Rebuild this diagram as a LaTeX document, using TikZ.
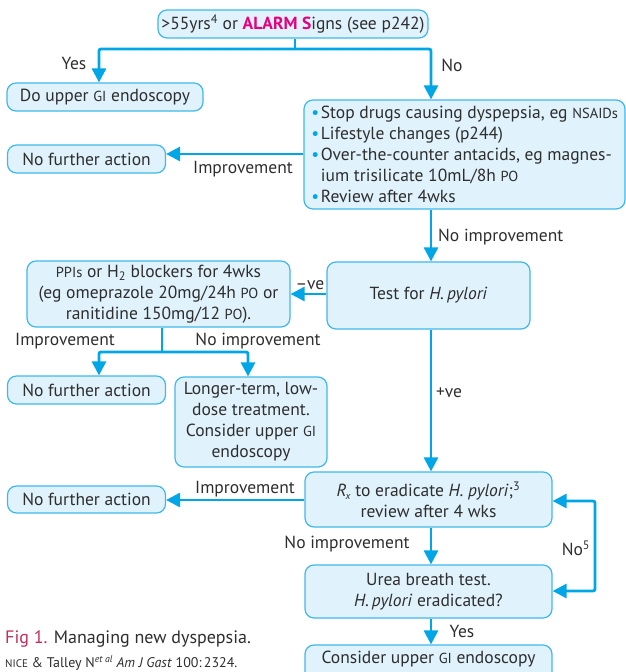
\documentclass[tikz,border=0pt]{standalone}
\usepackage{fontspec}
\setmainfont{PT Sans}
\usetikzlibrary{arrows.meta}
\definecolor{flow}{HTML}{00A6E6}
\definecolor{boxfill}{HTML}{E0F2FB}
\definecolor{boxline}{HTML}{3FB8EC}
\definecolor{txt}{HTML}{2E2E2E}
\definecolor{alarm}{HTML}{E6007E}
\definecolor{figred}{HTML}{C22D5B}
\newcommand\smc[1]{{\fontsize{14.5}{14.5}\selectfont #1}}
\newcommand\bul{\makebox[10pt][l]{\hspace{0.5pt}\textcolor{flow}{\textbullet}}}
\tikzset{
  box/.style={draw=boxline, fill=boxfill, rounded corners=9pt, line width=1.2pt, text=txt, inner sep=0pt, align=center},
  conn/.style={draw=flow, line width=2.8pt, rounded corners=2pt},
  arr/.style={conn, -{Triangle[length=14pt,width=14pt]}},
  darr/.style={conn, {Triangle[length=14pt,width=14pt]}-{Triangle[length=14pt,width=14pt]}},
  lab/.style={text=txt, inner sep=0pt},
}
\begin{document}
\begin{tikzpicture}[x=1pt, y=-1pt, font=\fontsize{17.5}{21}\selectfont]
\useasboundingbox (0,0) rectangle (626,672);
\clip (0,0) rectangle (626,672);

% column coordinates
\coordinate (cL) at (99,0);
\coordinate (cR) at (431,0);
\coordinate (cLong) at (248,0);
\coordinate (j1) at (295,49);
\coordinate (j2) at (162,352);
\coordinate (r1) at (0,154);
\coordinate (r3) at (0,500);
\coordinate (lpTop) at (595,501);
\coordinate (lpBot) at (595,591);

% boxes
\node[box, minimum width=270pt, minimum height=28pt] (top) at (293,24)
  {\textgreater55yrs\textsuperscript{4} or \textbf{\textcolor{alarm}{ALARM S}}igns (see p242)};
\node[box, minimum width=196pt, minimum height=28pt] (do) at (105,97)
  {Do upper \smc{GI} endoscopy};
\node[box, minimum width=321pt, minimum height=109pt, align=left] (bul) at (464.5,154.5)
  {\bul Stop drugs causing dyspepsia, eg \smc{NSAIDs}\\
   \bul Lifestyle changes (p244)\\
   \bul Over-the-counter antacids, eg magnes-\\
   \hspace*{10pt}ium trisilicate 10mL/8h \smc{PO}\\
   \bul Review after 4wks};
\node[box, minimum width=158pt, minimum height=28pt] (nfa1) at (86.5,159) {No further action};
\node[box, minimum width=203pt, minimum height=67pt] (test) at (428.5,295.5) {Test for \textit{H.\,pylori}};
\node[box, minimum width=263pt, minimum height=66pt] (ppi) at (158.5,294)
  {\smc{PPIs} or H\textsubscript{2} blockers for 4wks\\
   (eg omeprazole 20mg/24h \smc{PO} or\\
   ranitidine 150mg/12 \smc{PO}).};
\node[box, minimum width=158pt, minimum height=28pt] (nfa2) at (86.5,390) {No further action};
\node[box, minimum width=152pt, minimum height=90pt] (long) at (251,422)
  {Longer-term, low-\\dose treatment.\\Consider upper \smc{GI}\\endoscopy};
\node[box, minimum width=247pt, minimum height=55pt] (rx) at (428.5,499.5)
  {{\textit{R}\kern-1pt\raisebox{-3pt}{\fontsize{10}{10}\selectfont\textit{x}}} to eradicate \textit{H. pylori};\textsuperscript{3}\\review after 4 wks};
\node[box, minimum width=158pt, minimum height=27pt] (nfa3) at (86.5,499.5) {No further action};
\node[box, minimum width=247pt, minimum height=53pt] (urea) at (428.5,591.5)
  {Urea breath test.\\\textit{H.\,pylori} eradicated?};
\node[box, minimum width=247pt, minimum height=46pt] (cons) at (428.5,668) {};
\node[lab] (constext) at (428.5,659) {Consider upper \smc{GI} endoscopy};

% connectors
\draw[conn] (top.south -| j1) -- (j1);
\draw[arr] (j1) -| (do.north -| cL);
\draw[arr] (j1) -| (bul.north -| cR);
\node[lab] (yes1) at (74,63) {Yes};
\node[lab] (no1) at (452,65) {No};

\draw[arr] (bul.west |- r1) -- (nfa1.east |- r1);
\node[lab] (imp1) at (243,169) {Improvement};

\draw[arr] (bul.south -| cR) -- (test.north -| cR);
\node[lab, anchor=west] (noimp1) at (438,237) {No improvement};

\draw[arr] (test.west |- ppi.east) -- (ppi.east);
\node[lab] (neg) at (310,285) {–ve};

\draw[conn] (ppi.south -| j2) -- (j2);
\draw[arr] (j2) -| (nfa2.north -| cL);
\draw[arr] (j2) -| (long.north -| cLong);
\node[lab] (imp2) at (65,341) {Improvement};
\node[lab] (noimp2) at (258,341) {No improvement};

\draw[arr] (test.south -| cR) -- (rx.north -| cR);
\node[lab] (pos) at (449,393) {+ve};

\draw[arr] (rx.west |- r3) -- (nfa3.east |- r3);
\node[lab] (imp3) at (245,489) {Improvement};

\draw[arr] (rx.south -| cR) -- (urea.north -| cR);
\node[lab] (noimp3) at (347,544) {No improvement};

\draw[darr] (rx.east |- lpTop) -- (lpTop) -- (lpBot) -- (urea.east |- lpBot);
\node[lab] (no5) at (576,548) {No\textsuperscript{5}};

\draw[arr] (urea.south -| cR) -- (cons.north -| cR);
\node[lab] (yes2) at (462,631) {Yes};

% caption
\node[lab, anchor=west, font=\fontsize{18}{21}\selectfont] (cap1) at (5,639)
  {\textcolor{figred}{Fig 1.} Managing new dyspepsia.};
\node[lab, anchor=west, font=\fontsize{14}{15}\selectfont] (cap2) at (5,663)
  {{\fontsize{11}{12}\selectfont NICE} \& Talley N\textsuperscript{\textit{et al}} \textit{Am J Gast} 100:\,2324.};
\end{tikzpicture}
\end{document}
